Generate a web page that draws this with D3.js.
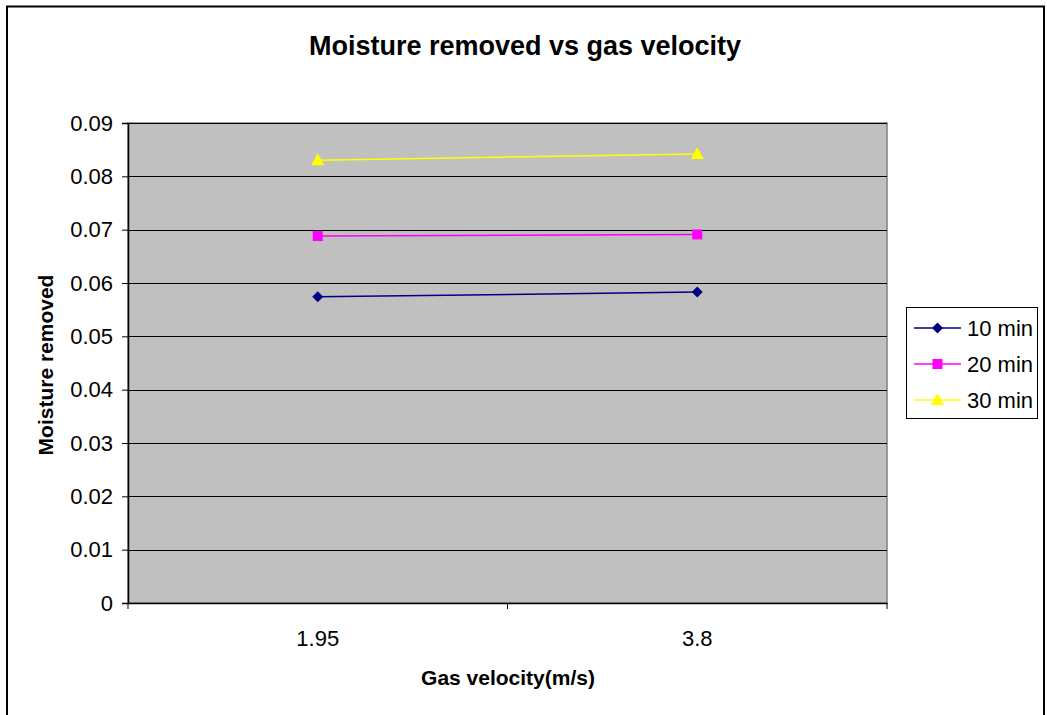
<!DOCTYPE html>
<html>
<head>
<meta charset="utf-8">
<script src="https://cdn.jsdelivr.net/npm/d3@7"></script>
<style>
  body { margin: 0; background: #fff; }
  svg { display: block; font-family: Arial, "Liberation Sans", sans-serif; }
</style>
</head>
<body>
<svg id="chart" width="1047" height="715"></svg>
<script>
  const categories = ['1.95', '3.8'];
  const seriesNames = ['10 min', '20 min', '30 min'];
  const seriesColors = ['#000080', '#ff00ff', '#ffff00'];
  const seriesShapes = ['diamond', 'square', 'triangle'];
  const values10 = [0.0574, 0.0583];
  const values20 = [0.0688, 0.0691];
  const values30 = [0.0830, 0.0842];
  const yTicks = [0, 0.01, 0.02, 0.03, 0.04, 0.05, 0.06, 0.07, 0.08, 0.09];

  const series = [values10, values20, values30].map((v, i) => ({
    name: seriesNames[i], color: seriesColors[i], shape: seriesShapes[i], values: v
  }));

  const FONT = 'Arial, "Liberation Sans", sans-serif';
  const svg = d3.select('#chart');
  const plot = { left: 128, top: 123, right: 887, bottom: 603 };

  // outer chart border
  svg.append('rect')
    .attr('x', 7).attr('y', 6.5).attr('width', 1037).attr('height', 720)
    .attr('fill', 'none').attr('stroke', '#000').attr('stroke-width', 2);

  const x = d3.scaleBand().domain(categories).range([plot.left, plot.right]);
  const y = d3.scaleLinear().domain([0, 0.09]).range([plot.bottom, plot.top]);

  svg.append('rect')
    .attr('x', plot.left).attr('y', plot.top)
    .attr('width', plot.right - plot.left).attr('height', plot.bottom - plot.top)
    .attr('fill', '#c0c0c0').attr('stroke', '#808080').attr('stroke-width', 1.5);

  // gridlines
  svg.append('g').selectAll('line')
    .data(yTicks.filter(t => t > 0))
    .join('line')
    .attr('x1', plot.left).attr('x2', plot.right)
    .attr('y1', d => Math.round(y(d)) + 0.5).attr('y2', d => Math.round(y(d)) + 0.5)
    .attr('stroke', '#000').attr('stroke-width', 1);

  // y axis
  const yAxis = svg.append('g')
    .attr('transform', `translate(${plot.left},0)`)
    .call(d3.axisLeft(y).tickValues(yTicks).tickSize(6).tickPadding(9)
      .tickFormat(d => d === 0 ? '0' : d3.format('.2f')(d)));
  yAxis.select('.domain').attr('stroke', '#000').attr('stroke-width', 1.5);
  yAxis.selectAll('.tick line').attr('stroke', '#000');
  yAxis.selectAll('.tick text').attr('font-size', 22).attr('fill', '#000')
    .attr('font-family', FONT);

  // x axis
  const xAxis = svg.append('g')
    .attr('transform', `translate(0,${plot.bottom})`)
    .call(d3.axisBottom(x).tickSize(0).tickPadding(27));
  xAxis.select('.domain').attr('stroke', '#000').attr('stroke-width', 1.5);
  xAxis.selectAll('.tick text').attr('font-size', 22).attr('fill', '#000')
    .attr('font-family', FONT);
  // category boundary ticks
  const bounds = [plot.left, plot.left + x.bandwidth(), plot.right];
  svg.append('g').selectAll('line')
    .data(bounds)
    .join('line')
    .attr('x1', d => d).attr('x2', d => d)
    .attr('y1', plot.bottom).attr('y2', plot.bottom + 6)
    .attr('stroke', '#000');

  const cx = c => x(c) + x.bandwidth() / 2;

  function marker(g, shape, color) {
    if (shape === 'diamond') {
      g.append('path').attr('d', 'M0,-5.5L5.5,0L0,5.5L-5.5,0Z').attr('fill', color);
    } else if (shape === 'square') {
      g.append('rect').attr('x', -5).attr('y', -5)
        .attr('width', 10).attr('height', 10).attr('fill', color);
    } else {
      g.append('path').attr('d', 'M0,-7L6.5,5L-6.5,5Z').attr('fill', color);
    }
  }

  const line = d3.line().x((d, i) => cx(categories[i])).y(d => y(d));

  series.forEach(s => {
    svg.append('path')
      .attr('d', line(s.values))
      .attr('fill', 'none').attr('stroke', s.color).attr('stroke-width', 1.5);
    s.values.forEach((v, i) => {
      const g = svg.append('g').attr('transform', `translate(${cx(categories[i])},${y(v)})`);
      marker(g, s.shape, s.color);
    });
  });

  // title
  svg.append('text')
    .attr('x', 525).attr('y', 55)
    .attr('text-anchor', 'middle')
    .attr('font-size', 27).attr('font-weight', 'bold')
    .text('Moisture removed vs gas velocity');

  // axis titles
  svg.append('text')
    .attr('x', 508).attr('y', 685)
    .attr('text-anchor', 'middle')
    .attr('font-size', 21).attr('font-weight', 'bold')
    .text('Gas velocity(m/s)');

  svg.append('text')
    .attr('transform', 'translate(53,365) rotate(-90)')
    .attr('text-anchor', 'middle')
    .attr('font-size', 21).attr('font-weight', 'bold')
    .text('Moisture removed');

  // legend
  const legend = svg.append('g');
  legend.append('rect')
    .attr('x', 906.5).attr('y', 307.5).attr('width', 131).attr('height', 111)
    .attr('fill', '#fff').attr('stroke', '#000').attr('stroke-width', 1);
  series.forEach((s, i) => {
    const ly = 328 + i * 36;
    legend.append('line')
      .attr('x1', 914).attr('x2', 961).attr('y1', ly).attr('y2', ly)
      .attr('stroke', s.color).attr('stroke-width', 1.5);
    marker(legend.append('g').attr('transform', `translate(937.5,${ly})`), s.shape, s.color);
    legend.append('text')
      .attr('x', 967).attr('y', ly + 7.5)
      .attr('font-size', 22)
      .text(s.name);
  });
</script>
</body>
</html>
